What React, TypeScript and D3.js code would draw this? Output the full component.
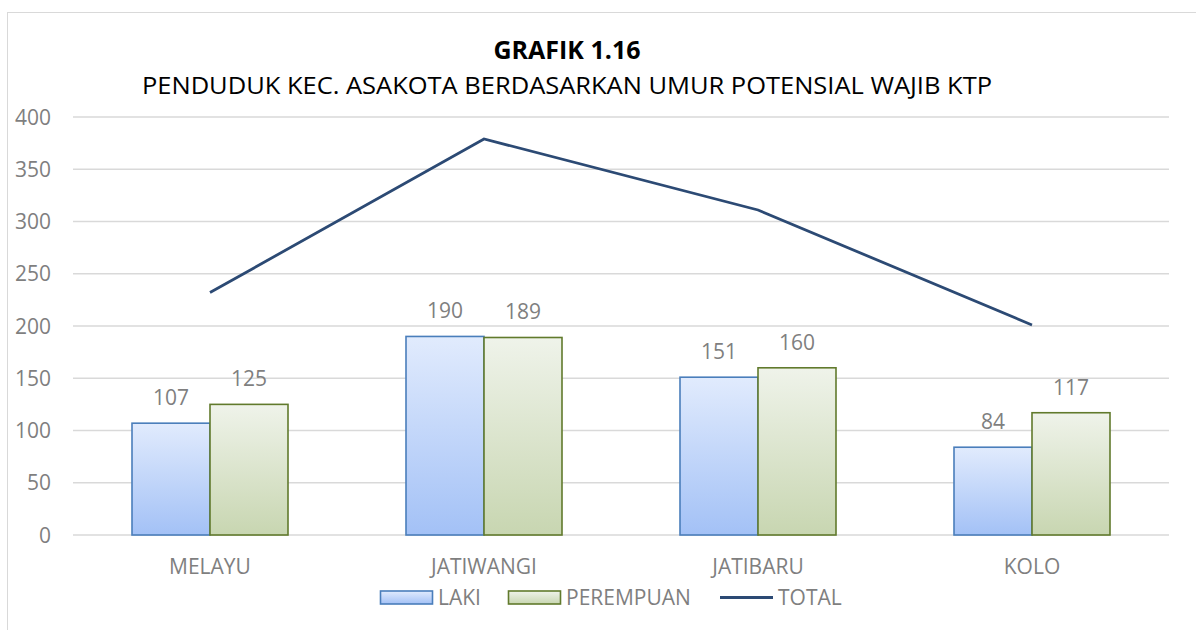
import React from 'react';
import * as d3 from 'd3';

const categories = ['MELAYU', 'JATIWANGI', 'JATIBARU', 'KOLO'];
const laki = [107, 190, 151, 84];
const perempuan = [125, 189, 160, 117];
const total = [232, 379, 311, 201];
const yTicks = [0, 50, 100, 150, 200, 250, 300, 350, 400];

const W = 1196;
const H = 630;
const FONT = "'Open Sans', sans-serif";

export default function App() {
  const x = d3.scaleBand<string>().domain(categories).range([73, 1169]).paddingInner(0).paddingOuter(0);
  const y = d3.scaleLinear().domain([0, 400]).range([535, 117]);
  const sub = d3.scaleBand<string>().domain(['L', 'P']).range([0, 156]);
  const barOffset = (x.bandwidth() - 156) / 2;

  const line = d3
    .line<number>()
    .x((_, i) => (x(categories[i]) as number) + x.bandwidth() / 2)
    .y((d) => y(d));

  const series = [
    { key: 'L', values: laki, fill: 'url(#gradL)', stroke: '#4a7ebb' },
    { key: 'P', values: perempuan, fill: 'url(#gradP)', stroke: '#617a2c' },
  ];

  return (
    <svg width={W} height={H} style={{ position: 'absolute', left: 0, top: 0 }} fontFamily={FONT}>
      <defs>
        <linearGradient id="gradL" x1="0" y1="0" x2="0" y2="1">
          <stop offset="0" stopColor="#e1ebfd" />
          <stop offset="1" stopColor="#a3c1f6" />
        </linearGradient>
        <linearGradient id="gradP" x1="0" y1="0" x2="0" y2="1">
          <stop offset="0" stopColor="#eff3ea" />
          <stop offset="1" stopColor="#c8d6b1" />
        </linearGradient>
      </defs>
      <rect x={0} y={0} width={W} height={H} fill="#fff" />
      <rect x={7.5} y={12.5} width={W + 10} height={H + 10} fill="none" stroke="#d9d9d9" strokeWidth={1} />

      <text x={567} y={59} textAnchor="middle" fontSize={25} fontWeight="bold" fill="#000">
        GRAFIK 1.16
      </text>
      <text x={567} y={94} textAnchor="middle" fontSize={24} fill="#000" textLength={850} lengthAdjust="spacingAndGlyphs">
        PENDUDUK KEC. ASAKOTA BERDASARKAN UMUR POTENSIAL WAJIB KTP
      </text>

      {yTicks.map((t) => (
        <g key={t}>
          <line x1={73} x2={1169} y1={y(t)} y2={y(t)} stroke="#d9d9d9" strokeWidth={1.5} />
          <text x={51} y={y(t) + 7.5} textAnchor="end" fontSize={21} fill="#7f7f7f">
            {t}
          </text>
        </g>
      ))}

      {series.map((s) =>
        s.values.map((v, i) => {
          const bx = (x(categories[i]) as number) + barOffset + (sub(s.key) as number);
          return (
            <g key={s.key + i}>
              <rect
                x={bx}
                y={y(v)}
                width={sub.bandwidth()}
                height={y(0) - y(v)}
                fill={s.fill}
                stroke={s.stroke}
                strokeWidth={1.6}
              />
              <text x={bx + sub.bandwidth() / 2} y={y(v) - 18} textAnchor="middle" fontSize={21} fill="#7f7f7f">
                {v}
              </text>
            </g>
          );
        })
      )}

      <path d={line(total) || ''} fill="none" stroke="#2c4a74" strokeWidth={2.8} />

      {categories.map((c) => (
        <text key={c} x={(x(c) as number) + x.bandwidth() / 2} y={574} textAnchor="middle" fontSize={21} fill="#7f7f7f">
          {c}
        </text>
      ))}

      <g fontSize={21} fill="#7f7f7f">
        <rect x={380.5} y={591} width={52} height={13} fill="url(#gradL)" stroke="#4a7ebb" strokeWidth={1.6} />
        <text x={438} y={605}>LAKI</text>
        <rect x={508.5} y={591} width={52} height={13} fill="url(#gradP)" stroke="#617a2c" strokeWidth={1.6} />
        <text x={566} y={605}>PEREMPUAN</text>
        <line x1={720} x2={773} y1={597.5} y2={597.5} stroke="#2c4a74" strokeWidth={2.8} />
        <text x={778} y={605}>TOTAL</text>
      </g>
    </svg>
  );
}
